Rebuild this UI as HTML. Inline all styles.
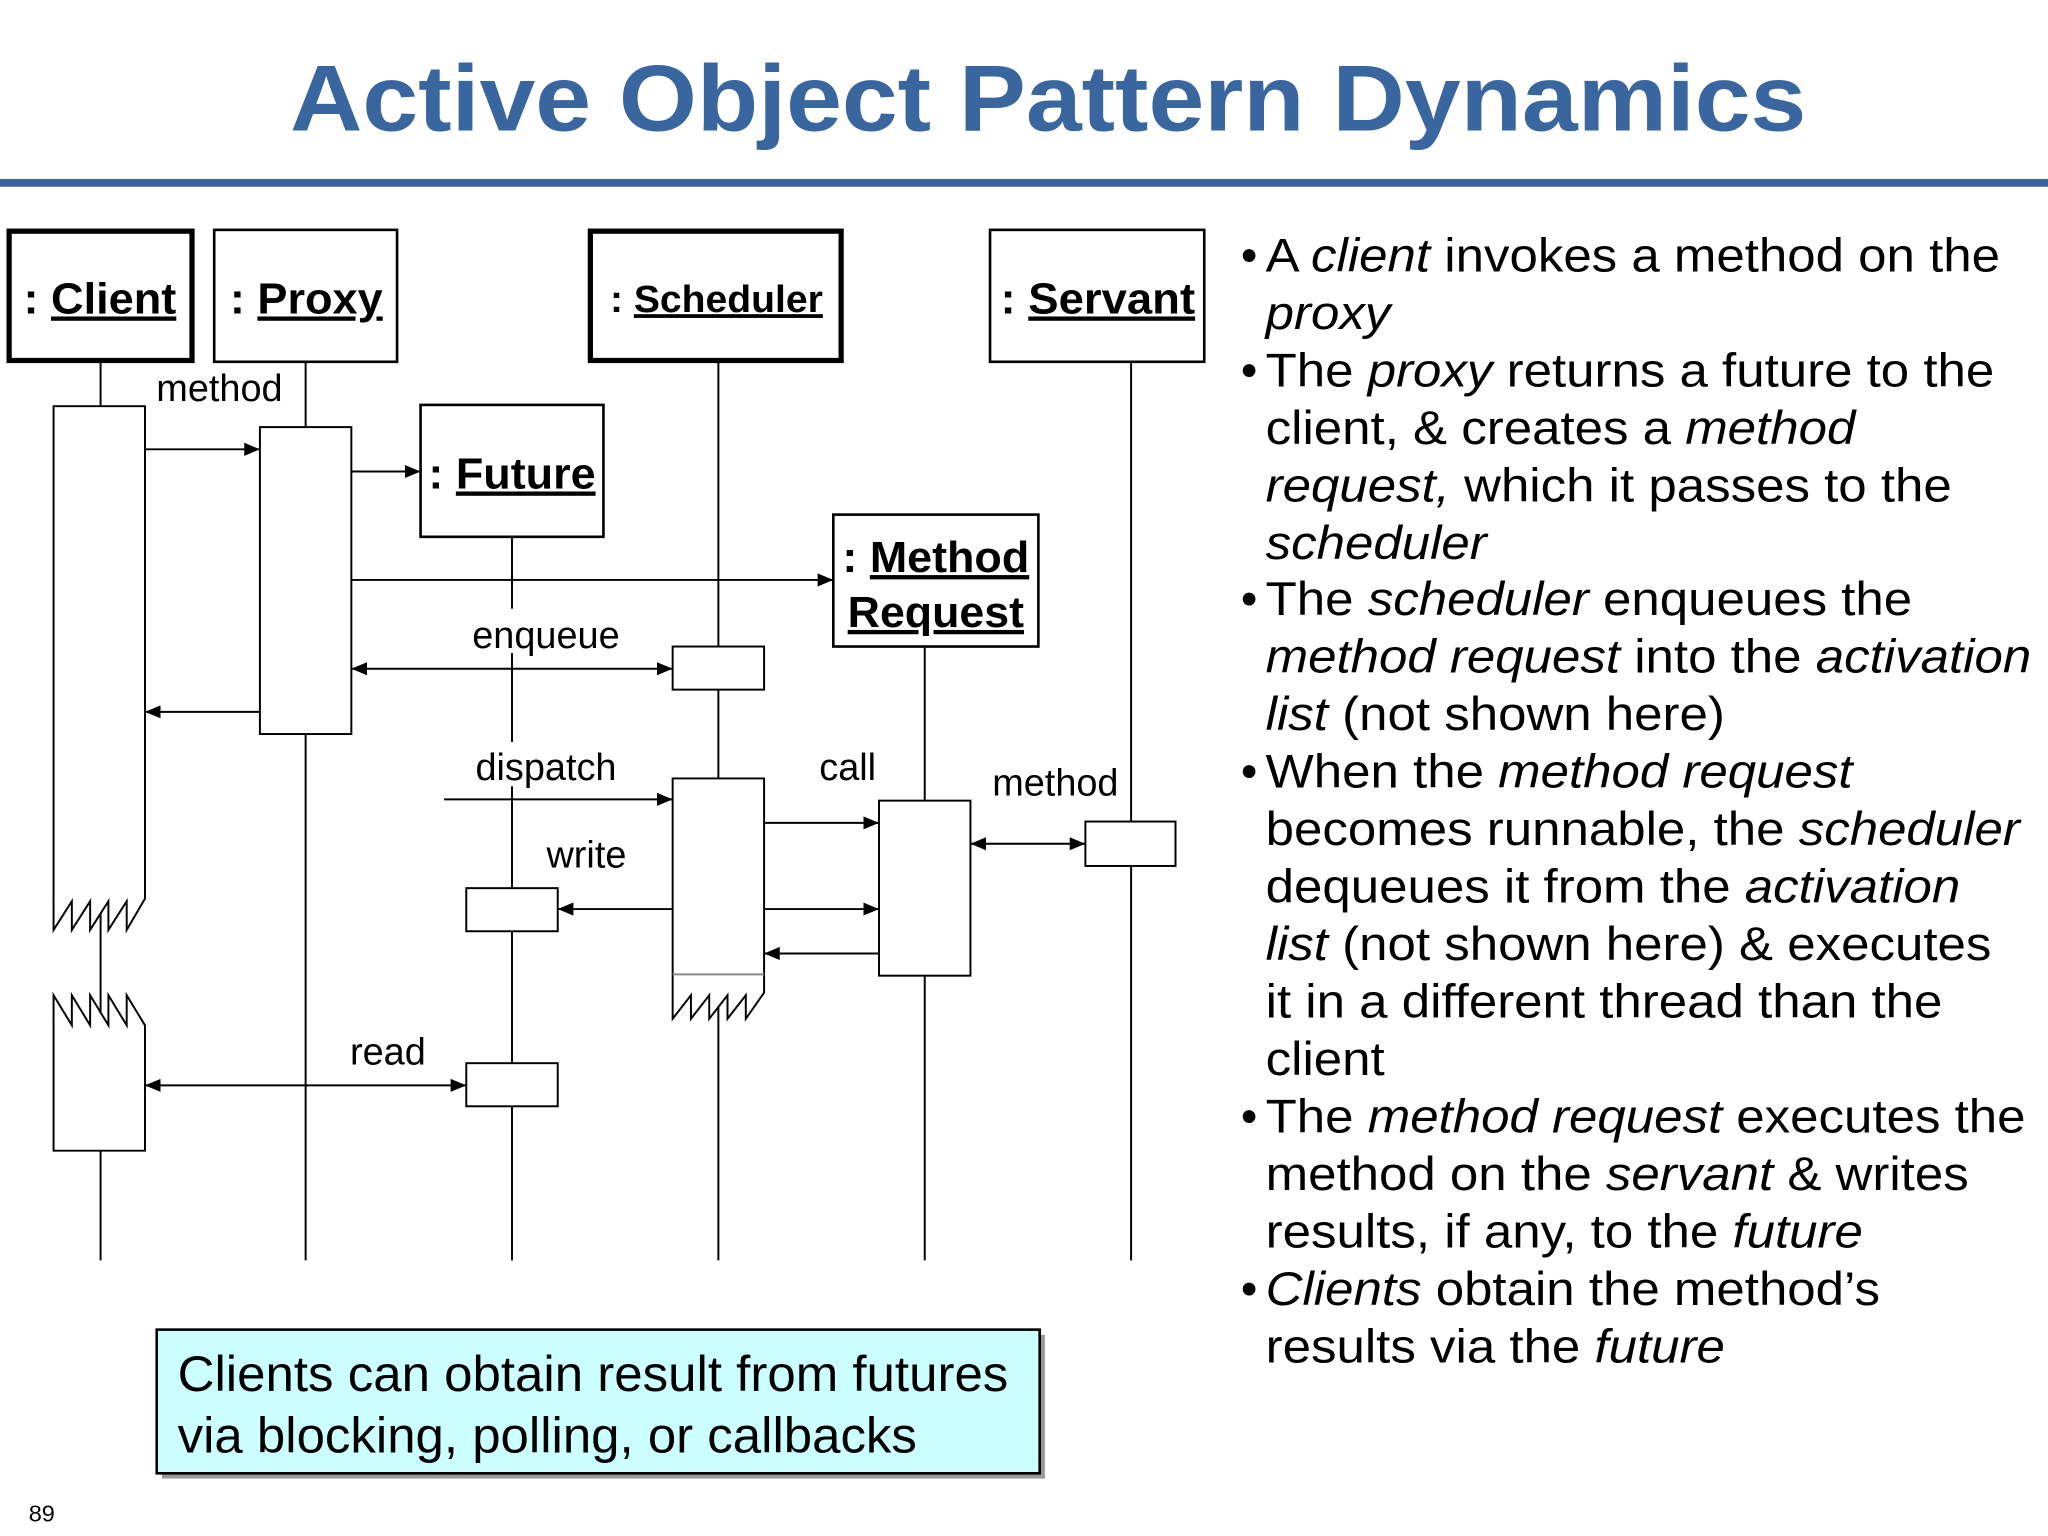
<!DOCTYPE html>
<html><head><meta charset="utf-8"><style>
html,body{margin:0;padding:0;background:#fff}
svg{display:block}
text{font-family:"Liberation Sans",Arial,sans-serif}
</style></head><body>
<svg width="2048" height="1536" viewBox="0 0 1568 1176" xmlns="http://www.w3.org/2000/svg">
<defs>
<marker id="a" markerWidth="12" markerHeight="10" refX="12" refY="5" orient="auto" markerUnits="userSpaceOnUse"><path d="M0,0 L12,5 L0,10 z" fill="#000"/></marker>
<marker id="b" markerWidth="12" markerHeight="10" refX="0" refY="5" orient="auto" markerUnits="userSpaceOnUse"><path d="M12,0 L0,5 L12,10 z" fill="#000"/></marker>
</defs>
<rect width="1568" height="1176" fill="#fff"/>
<text x="222" y="100" font-size="72" font-weight="bold" fill="#3a66a0" textLength="1161" lengthAdjust="spacingAndGlyphs">Active Object Pattern Dynamics</text>
<rect x="0" y="137" width="1568" height="6" fill="#3b66a0"/>

<g stroke="#000" stroke-width="1.5" fill="none">
<line x1="77" y1="277" x2="77" y2="965"/>
<line x1="234" y1="277" x2="234" y2="965"/>
<line x1="392" y1="411" x2="392" y2="965"/>
<line x1="550" y1="277" x2="550" y2="965"/>
<line x1="708" y1="495" x2="708" y2="965"/>
<line x1="866" y1="277" x2="866" y2="965"/>
</g>
<!-- label backgrounds -->
<g fill="#fff">
<rect x="356" y="466" width="124" height="34"/>
<rect x="358" y="568" width="120" height="34"/>
<rect x="413" y="636" width="72" height="34"/>
<rect x="262" y="786" width="70" height="34"/>
</g>
<g stroke="#000" stroke-width="1.5" fill="#fff">
<path d="M41,311 L111,311 L111,688 L97,712 L97,690 L83,712 L83,690 L69,712 L69,690 L55,712 L55,690 L41,712 Z" />
<path d="M41,881 L111,881 L111,785 L97,762 L97,785 L83,762 L83,785 L69,762 L69,785 L55,762 L55,785 L41,762 Z"/>
<rect x="199" y="327" width="70" height="235"/>
<rect x="515" y="495" width="70" height="33"/>
<path d="M515,596 L585,596 L585,760 L571,780 L571,762 L557,780 L557,762 L543,780 L543,762 L529,780 L529,762 L515,780 Z"/>
<line x1="515" y1="746" x2="585" y2="746" stroke="#888"/>
<rect x="673" y="613" width="70" height="134"/>
<rect x="831" y="629" width="69" height="34"/>
<rect x="357" y="680" width="70" height="33"/>
<rect x="357" y="814" width="70" height="33"/>
</g>

<g fill="#fff" stroke="#000">
<rect x="7" y="177" width="140" height="99" stroke-width="4"/>
<rect x="164" y="176" width="140" height="101" stroke-width="2"/>
<rect x="452" y="177" width="192" height="99" stroke-width="4"/>
<rect x="758" y="176" width="164" height="101" stroke-width="2"/>
<rect x="322" y="310" width="140" height="101" stroke-width="2"/>
<rect x="638" y="394" width="157" height="101" stroke-width="2"/>
</g>
<g font-weight="bold" font-size="33" fill="#000">
<text x="18" y="240" textLength="117" lengthAdjust="spacingAndGlyphs">: <tspan text-decoration="underline">Client</tspan></text>
<text x="176" y="240" textLength="117" lengthAdjust="spacingAndGlyphs">: <tspan text-decoration="underline">Proxy</tspan></text>
<text x="467" y="239" font-size="29" textLength="163" lengthAdjust="spacingAndGlyphs">: <tspan text-decoration="underline">Scheduler</tspan></text>
<text x="766" y="240" textLength="149" lengthAdjust="spacingAndGlyphs">: <tspan text-decoration="underline">Servant</tspan></text>
<text x="328" y="374" textLength="128" lengthAdjust="spacingAndGlyphs">: <tspan text-decoration="underline">Future</tspan></text>
<text x="645" y="438" textLength="143" lengthAdjust="spacingAndGlyphs">: <tspan text-decoration="underline">Method</tspan></text>
<text x="649" y="480" text-decoration="underline" textLength="135" lengthAdjust="spacingAndGlyphs">Request</text>
</g>

<g stroke="#000" stroke-width="1.5">
<line x1="111" y1="344" x2="199" y2="344" marker-end="url(#a)"/>
<line x1="269" y1="361" x2="322" y2="361" marker-end="url(#a)"/>
<line x1="269" y1="444" x2="638" y2="444" marker-end="url(#a)"/>
<line x1="269" y1="512" x2="515" y2="512" marker-end="url(#a)" marker-start="url(#b)"/>
<line x1="199" y1="545" x2="111" y2="545" marker-end="url(#a)"/>
<line x1="340" y1="612" x2="515" y2="612" marker-end="url(#a)"/>
<line x1="585" y1="630" x2="673" y2="630" marker-end="url(#a)"/>
<line x1="585" y1="696" x2="673" y2="696" marker-end="url(#a)"/>
<line x1="673" y1="730" x2="585" y2="730" marker-end="url(#a)"/>
<line x1="743" y1="646" x2="831" y2="646" marker-end="url(#a)" marker-start="url(#b)"/>
<line x1="515" y1="696" x2="427" y2="696" marker-end="url(#a)"/>
<line x1="111" y1="831" x2="357" y2="831" marker-end="url(#a)" marker-start="url(#b)"/>
</g>
<g font-size="29" fill="#000" text-anchor="middle">
<text x="168" y="307">method</text>
<text x="418" y="496">enqueue</text>
<text x="418" y="597">dispatch</text>
<text x="649" y="597">call</text>
<text x="808" y="609">method</text>
<text x="449" y="664">write</text>
<text x="297" y="815">read</text>
</g>

<rect x="124" y="1022" width="676" height="110" fill="#999"/>
<rect x="120" y="1018" width="676" height="110" fill="#ccffff" stroke="#000" stroke-width="2"/>
<text x="136" y="1065" font-size="38" textLength="636" lengthAdjust="spacingAndGlyphs">Clients can obtain result from futures</text>
<text x="136" y="1112" font-size="38" textLength="566" lengthAdjust="spacingAndGlyphs">via blocking, polling, or callbacks</text>
<text x="22" y="1165" font-size="18">89</text>

<g font-size="36" fill="#000">
<text x="950" y="208">•</text><text x="950" y="296">•</text><text x="950" y="471">•</text><text x="950" y="603">•</text><text x="950" y="867">•</text><text x="950" y="999">•</text>
</g>
<g font-size="36" fill="#000" transform="translate(969,0) scale(1.085,1) translate(-969,0)">
<text x="969" y="208">A <tspan font-style="italic">client</tspan> invokes a method on the</text>
<text x="969" y="252" font-style="italic">proxy</text>
<text x="969" y="296">The <tspan font-style="italic">proxy</tspan> returns a future to the</text>
<text x="969" y="340">client, &amp; creates a <tspan font-style="italic">method</tspan></text>
<text x="969" y="384"><tspan font-style="italic">request,</tspan> which it passes to the</text>
<text x="969" y="428" font-style="italic">scheduler</text>
<text x="969" y="471">The <tspan font-style="italic">scheduler</tspan> enqueues the</text>
<text x="969" y="515"><tspan font-style="italic">method request</tspan> into the <tspan font-style="italic">activation</tspan></text>
<text x="969" y="559"><tspan font-style="italic">list</tspan> (not shown here)</text>
<text x="969" y="603">When the <tspan font-style="italic">method request</tspan></text>
<text x="969" y="647">becomes runnable, the <tspan font-style="italic">scheduler</tspan></text>
<text x="969" y="691">dequeues it from the <tspan font-style="italic">activation</tspan></text>
<text x="969" y="735"><tspan font-style="italic">list</tspan> (not shown here) &amp; executes</text>
<text x="969" y="779">it in a different thread than the</text>
<text x="969" y="823">client</text>
<text x="969" y="867">The <tspan font-style="italic">method request</tspan> executes the</text>
<text x="969" y="911">method on the <tspan font-style="italic">servant</tspan> &amp; writes</text>
<text x="969" y="955">results, if any, to the <tspan font-style="italic">future</tspan></text>
<text x="969" y="999"><tspan font-style="italic">Clients</tspan> obtain the method’s</text>
<text x="969" y="1043">results via the <tspan font-style="italic">future</tspan></text>
</g>
</svg>
</body></html>
